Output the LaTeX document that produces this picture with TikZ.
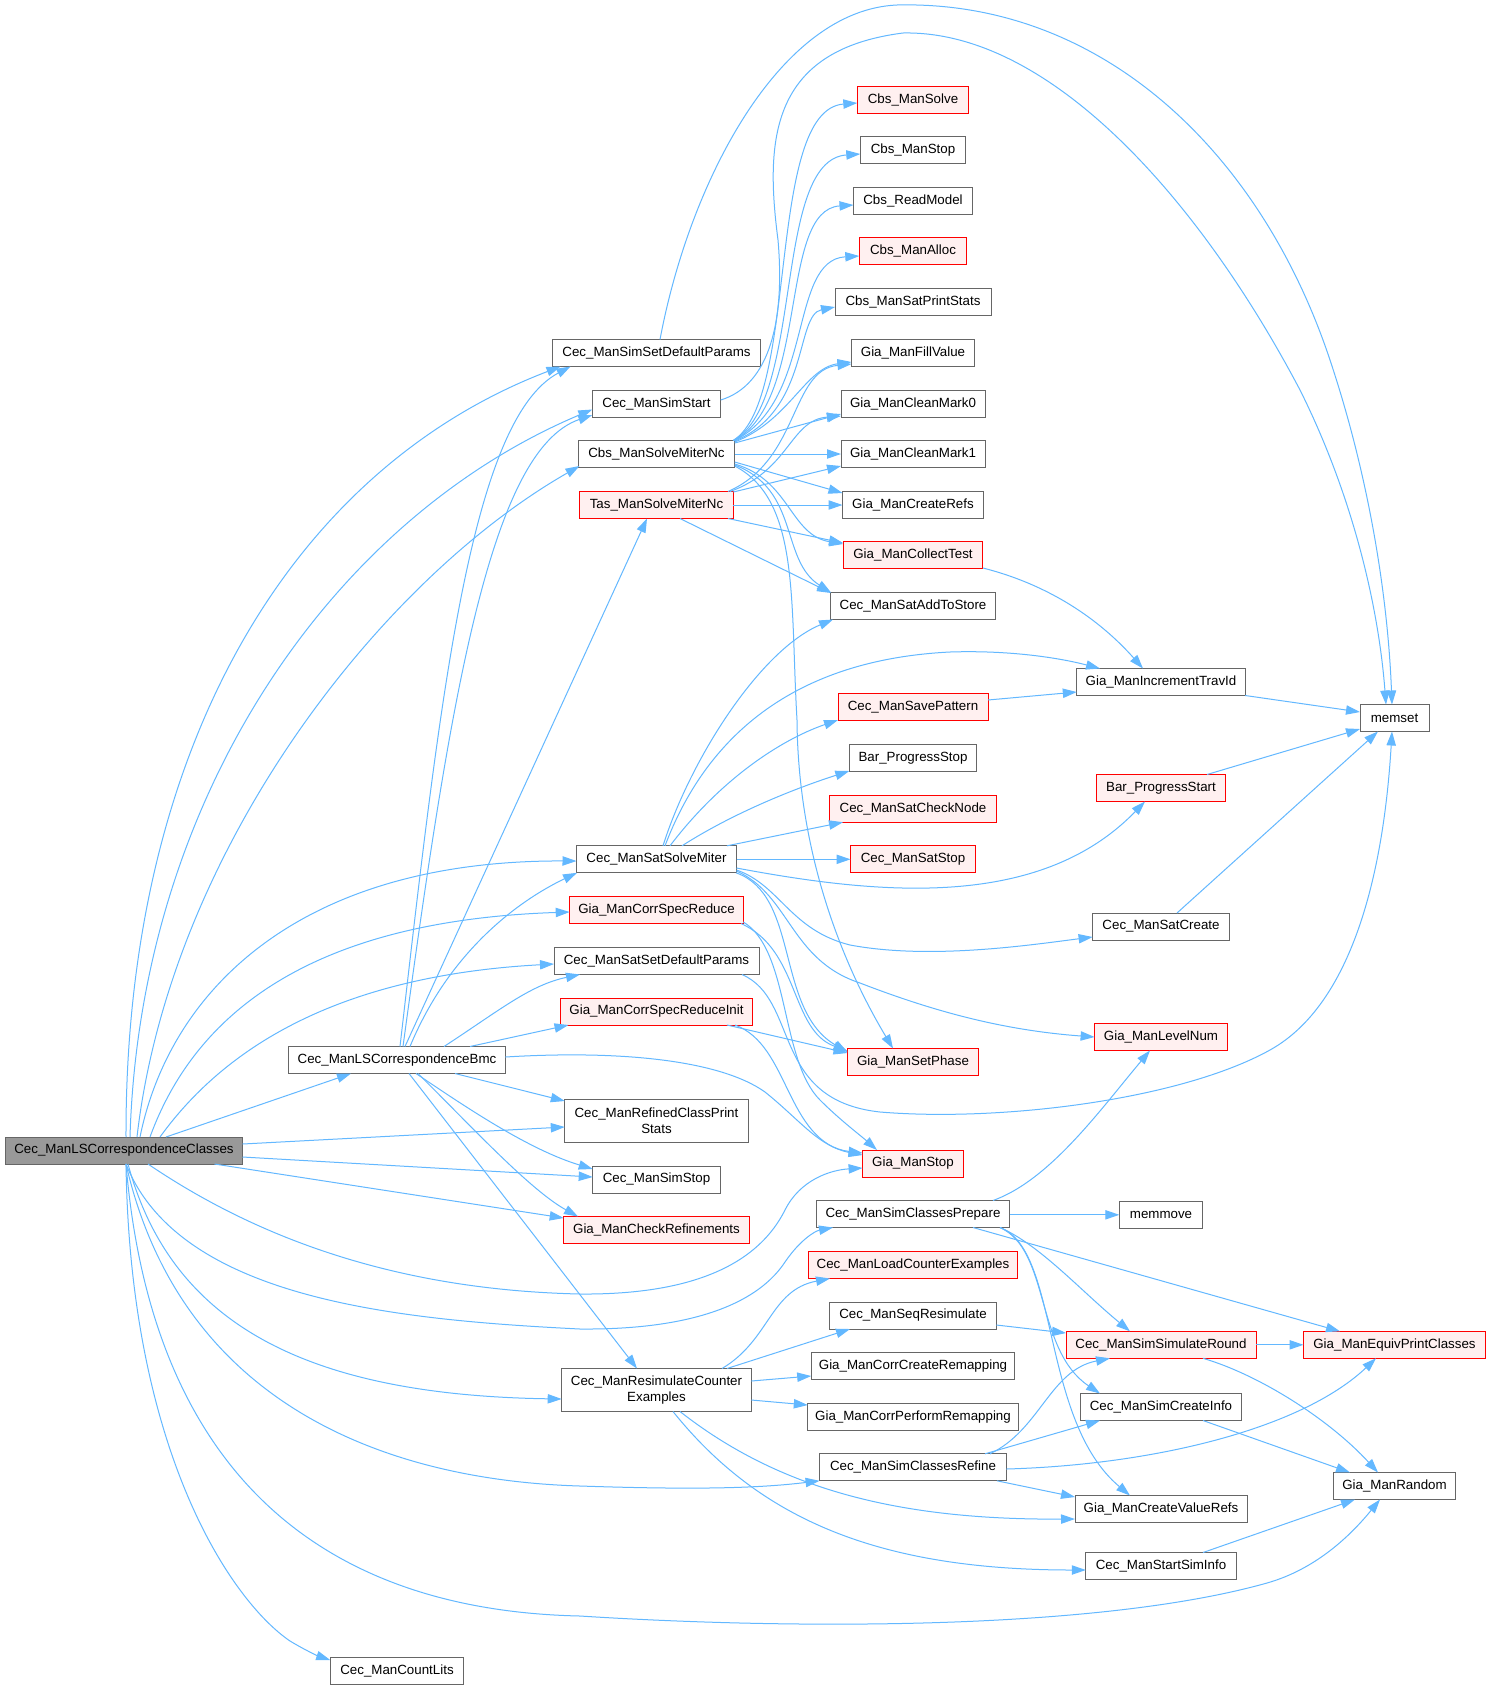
\documentclass[tikz,border=0pt]{standalone}
\usepackage{fontspec}
\setmainfont{Liberation Sans}
\usetikzlibrary{arrows.meta,calc}
\definecolor{edgeblue}{HTML}{63B8FF}
\definecolor{nodegray}{HTML}{666666}
\definecolor{rootfill}{HTML}{999999}
\definecolor{redfill}{HTML}{FFF0F0}
\begin{document}
\begin{tikzpicture}[x=0.75pt,y=-0.75pt,
  nd/.style={draw=nodegray, line width=0.75pt, fill=white, rectangle, inner sep=0pt,
    minimum height=27*0.75pt, font=\fontsize{10}{12}\selectfont, align=center},
  wd/.style={minimum width=#1*0.75pt},
  redn/.style={draw=red, fill=redfill},
  rootn/.style={fill=rootfill},
  tall/.style={minimum height=43*0.75pt},
  e/.style={draw=edgeblue, line width=0.75pt, -{Triangle[length=10.5pt,width=7pt]}}
]
\fill[white] (0,0) rectangle (1491,1689);
\useasboundingbox (0,0) rectangle (1491,1689);

% column 1-2
\node[nd,rootn,wd=237] (A) at (124,1150.5) {Cec\_ManLSCorrespondenceClasses};
\node[nd,wd=216.6] (B) at (397,1060) {Cec\_ManLSCorrespondenceBmc};
\node[nd,wd=133.6] (cnt) at (397,1670.5) {Cec\_ManCountLits};
% column 3
\node[nd,wd=207.6] (ssdp) at (656.5,353) {Cec\_ManSimSetDefaultParams};
\node[nd,wd=128.4] (sst) at (656.5,403.5) {Cec\_ManSimStart};
\node[nd,wd=156.4] (C) at (656.5,454) {Cbs\_ManSolveMiterNc};
\node[nd,redn,wd=153.6] (T) at (656.5,505) {Tas\_ManSolveMiterNc};
\node[nd,wd=160] (S) at (656.5,859.3) {Cec\_ManSatSolveMiter};
\node[nd,redn,wd=173.6] (csr) at (656.5,910) {Gia\_ManCorrSpecReduce};
\node[nd,wd=205] (satdp) at (656.5,961) {Cec\_ManSatSetDefaultParams};
\node[nd,redn,wd=191.6] (csri) at (656.5,1011.5) {Gia\_ManCorrSpecReduceInit};
\node[nd,tall,wd=183.3] (rcps) at (656.5,1120.7) {Cec\_ManRefinedClassPrint\\Stats};
\node[nd,wd=127.6] (sstop) at (656.5,1179.5) {Cec\_ManSimStop};
\node[nd,redn,wd=185.6] (chk) at (656.5,1230) {Gia\_ManCheckRefinements};
\node[nd,tall,wd=189.6] (R) at (656.5,1390) {Cec\_ManResimulateCounter\\Examples};
% column 4
\node[nd,redn,wd=111.3] (cbsS) at (913,99.5) {Cbs\_ManSolve};
\node[nd,wd=105.3] (cbsSt) at (913,150) {Cbs\_ManStop};
\node[nd,wd=119] (cbsR) at (913,201) {Cbs\_ReadModel};
\node[nd,redn,wd=107.3] (cbsA) at (913,251.3) {Cbs\_ManAlloc};
\node[nd,wd=156] (cbsP) at (913,302) {Cbs\_ManSatPrintStats};
\node[nd,wd=123] (fill) at (913,353) {Gia\_ManFillValue};
\node[nd,wd=144] (cm0) at (913,403.5) {Gia\_ManCleanMark0};
\node[nd,wd=144] (cm1) at (913,454) {Gia\_ManCleanMark1};
\node[nd,wd=141] (cref) at (913,505) {Gia\_ManCreateRefs};
\node[nd,redn,wd=139.7] (coll) at (913,555.3) {Gia\_ManCollectTest};
\node[nd,wd=165.7] (add) at (913,606) {Cec\_ManSatAddToStore};
\node[nd,redn,wd=150] (savp) at (913,707.3) {Cec\_ManSavePattern};
\node[nd,wd=127.3] (pstop) at (913,758) {Bar\_ProgressStop};
\node[nd,redn,wd=166.7] (chkn) at (913,808.7) {Cec\_ManSatCheckNode};
\node[nd,redn,wd=125] (satstop) at (913,859.3) {Cec\_ManSatStop};
\node[nd,redn,wd=131] (phase) at (913,1062) {Gia\_ManSetPhase};
\node[nd,redn,wd=100.7] (gstop) at (913,1163.5) {Gia\_ManStop};
\node[nd,wd=193.3] (P) at (913,1214) {Cec\_ManSimClassesPrepare};
\node[nd,redn,wd=209.6] (load) at (913,1265) {Cec\_ManLoadCounterExamples};
\node[nd,wd=166.7] (seq) at (913,1315.5) {Cec\_ManSeqResimulate};
\node[nd,wd=203.6] (ccr) at (913,1366) {Gia\_ManCorrCreateRemapping};
\node[nd,wd=210.4] (cpr) at (913,1417) {Gia\_ManCorrPerformRemapping};
\node[nd,wd=186.7] (F) at (913,1467.3) {Cec\_ManSimClassesRefine};
% column 5
\node[nd,wd=168.3] (trav) at (1161,682) {Gia\_ManIncrementTravId};
\node[nd,redn,wd=129] (pstart) at (1161,788) {Bar\_ProgressStart};
\node[nd,wd=136.7] (satc) at (1161,926.5) {Cec\_ManSatCreate};
\node[nd,redn,wd=132.7] (lev) at (1161,1037) {Gia\_ManLevelNum};
\node[nd,wd=83.4] (mmove) at (1161,1214.8) {memmove};
\node[nd,redn,wd=190] (ssr) at (1161,1344.8) {Cec\_ManSimSimulateRound};
\node[nd,wd=161.7] (sci) at (1161,1407) {Cec\_ManSimCreateInfo};
\node[nd,wd=172] (cvr) at (1161,1509) {Gia\_ManCreateValueRefs};
\node[nd,wd=150.3] (ssi) at (1161,1566) {Cec\_ManStartSimInfo};
% column 6
\node[nd,wd=69] (mset) at (1394.5,718) {memset};
\node[nd,redn,wd=182] (epc) at (1394.5,1344.8) {Gia\_ManEquivPrintClasses};
\node[nd,wd=122.4] (rnd) at (1394.5,1486) {Gia\_ManRandom};

% edges from A
\draw[e] ($(A)+(2,-13.5)$) .. controls (125,750) and (290,470) .. ($(ssdp)+(-96,13.5)$);
\draw[e] ($(A)+(6,-13.5)$) .. controls (140,800) and (330,520) .. ($(sst)+(-64.2,6)$);
\draw[e] ($(A)+(13,-13.5)$) .. controls (170,850) and (380,580) .. ($(C)+(-77,12)$);
\draw[e] ($(A)+(16,-13.5)$) .. controls (170,990) and (300,860) .. ($(S)+(-80,1.7)$);
\draw[e] ($(A)+(26,-13.5)$) .. controls (200,1000) and (330,920) .. ($(csr)+(-86.8,2)$);
\draw[e] ($(A)+(36,-13.5)$) .. controls (230,1040) and (350,975) .. ($(satdp)+(-102.5,3)$);
\draw[e] ($(A)+(42,-13.5)$) -- ($(B)+(-46,13.5)$);
\draw[e] ($(A)+(118.5,-6.5)$) -- ($(rcps)+(-91.7,6.3)$);
\draw[e] ($(A)+(118.5,6.5)$) -- ($(sstop)+(-63.8,-2.5)$);
\draw[e] ($(A)+(90.5,13.5)$) -- ($(chk)+(-92.8,-12)$);
\draw[e] ($(A)+(24,13.5)$) .. controls (260,1240) and (400,1290) .. (580,1294) .. controls (700,1295) and (760,1260) .. (785,1210) .. controls (800,1180) and (830,1170) .. ($(gstop)+(-50.4,4.5)$);
\draw[e] ($(A)+(2,13.5)$) .. controls (180,1300) and (400,1320) .. (580,1329) .. controls (700,1330) and (760,1300) .. (785,1262) .. controls (800,1240) and (815,1231) .. ($(P)+(-80,13.5)$);
\draw[e] ($(A)+(4,13.5)$) .. controls (170,1320) and (300,1395) .. ($(R)+(-94.8,9)$);
\draw[e] ($(A)+(2,13.5)$) .. controls (180,1400) and (380,1480) .. (580,1486) .. controls (700,1490) and (760,1488) .. ($(F)+(-93.4,13.5)$);
\draw[e] ($(A)+(2,13.5)$) .. controls (150,1450) and (300,1610) .. (580,1616) .. controls (800,1630) and (1100,1630) .. (1267,1583) .. controls (1320,1568) and (1355,1530) .. ($(rnd)+(-14.5,13.5)$);
\draw[e] ($(A)+(2,13.5)$) .. controls (130,1450) and (230,1600) .. (290,1641) .. controls (305,1650) and (318,1656) .. ($(cnt)+(-66.8,-10.5)$);

% edges from B
\draw[e] ($(B)+(3,-13.5)$) .. controls (440,700) and (470,420) .. ($(ssdp)+(-86,13.5)$);
\draw[e] ($(B)+(6,-13.5)$) .. controls (450,700) and (490,450) .. ($(sst)+(-64.2,11.5)$);
\draw[e] ($(B)+(8,-13.5)$) -- ($(T)+(-9.5,13.5)$);
\draw[e] ($(B)+(13,-13.5)$) .. controls (450,950) and (520,900) .. ($(S)+(-79.5,13.5)$);
\draw[e] ($(B)+(47,-13.5)$) .. controls (500,1010) and (530,985) .. ($(satdp)+(-76.5,13.5)$);
\draw[e] ($(B)+(73,-13.5)$) -- ($(csri)+(-88,13.5)$);
\draw[e] ($(B)+(108.3,-3)$) .. controls (620,1050) and (720,1060) .. (765,1092) .. controls (800,1120) and (820,1148) .. ($(gstop)+(-50.4,-10.5)$);
\draw[e] ($(B)+(58,13.5)$) -- ($(rcps)+(-91.7,-19.7)$);
\draw[e] ($(B)+(19,13.5)$) .. controls (470,1110) and (530,1150) .. ($(sstop)+(-63.8,-10.5)$);
\draw[e] ($(B)+(21,13.5)$) .. controls (470,1125) and (530,1190) .. ($(chk)+(-78.5,-13.5)$);
\draw[e] ($(B)+(12,13.5)$) -- ($(R)+(-19.5,-21.5)$);

% edges from Cbs_ManSolveMiterNc
\draw[e] ($(C)+(76.5,-13.5)$) .. controls (800,400) and (765,110) .. ($(cbsS)+(-55.7,3.5)$);
\draw[e] ($(C)+(77,-13.5)$) .. controls (805,400) and (772,160) .. ($(cbsSt)+(-52.7,4)$);
\draw[e] ($(C)+(77.5,-13.5)$) .. controls (810,400) and (778,210) .. ($(cbsR)+(-59.5,4)$);
\draw[e] ($(C)+(78,-13.5)$) .. controls (815,400) and (788,260) .. ($(cbsA)+(-53.7,4.7)$);
\draw[e] ($(C)+(78.2,-13)$) .. controls (810,410) and (795,315) .. ($(cbsP)+(-78,5)$);
\draw[e] ($(C)+(78.2,-12)$) .. controls (790,420) and (805,368) .. ($(fill)+(-61.5,9)$);
\draw[e] ($(C)+(78.2,-11)$) -- ($(cm0)+(-72,10.5)$);
\draw[e] ($(C)+(78.2,0)$) -- ($(cm1)+(-72,0)$);
\draw[e] ($(C)+(78.2,8)$) -- ($(cref)+(-70.5,-12)$);
\draw[e] ($(C)+(78.2,10)$) .. controls (790,480) and (790,535) .. ($(coll)+(-69.9,-11.3)$);
\draw[e] ($(C)+(78.2,11)$) .. controls (800,490) and (780,560) .. ($(add)+(-82,-13.5)$);
\draw[e] ($(C)+(78.2,12)$) .. controls (800,500) and (790,600) .. (797,720) .. controls (798,850) and (840,960) .. ($(phase)+(-20,-13.5)$);

% edges from Tas_ManSolveMiterNc
\draw[e] ($(T)+(71.5,-13.5)$) .. controls (800,460) and (790,370) .. ($(fill)+(-61.5,11)$);
\draw[e] ($(T)+(73.5,-13.5)$) .. controls (790,470) and (790,420) .. ($(cm0)+(-72,12.5)$);
\draw[e] ($(T)+(76.8,-13)$) -- ($(cm1)+(-72,12)$);
\draw[e] ($(T)+(76.8,0)$) -- ($(cref)+(-70.5,0)$);
\draw[e] ($(T)+(71.5,13.5)$) -- ($(coll)+(-69.9,-12.3)$);
\draw[e] ($(T)+(23.5,13.5)$) -- ($(add)+(-82,-13)$);

% edges from Cec_ManSatSolveMiter
\draw[e] ($(S)+(6.5,-13.5)$) .. controls (690,760) and (760,650) .. ($(add)+(-80,13.5)$);
\draw[e] ($(S)+(8.5,-13.5)$) .. controls (705,740) and (790,660) .. (950,652) .. controls (1010,650) and (1060,658) .. ($(trav)+(-61,-13.5)$);
\draw[e] ($(S)+(13.5,-13.5)$) .. controls (720,780) and (780,740) .. ($(savp)+(-75,12.7)$);
\draw[e] ($(S)+(25.5,-13.5)$) .. controls (730,815) and (790,790) .. ($(pstop)+(-63.7,13)$);
\draw[e] ($(S)+(70.5,-13.5)$) -- ($(chkn)+(-70,13.5)$);
\draw[e] ($(S)+(80,0)$) -- ($(satstop)+(-62.5,0)$);
\draw[e] ($(S)+(80,8.7)$) .. controls (880,895) and (1040,910) .. ($(pstart)+(-16,13.5)$);
\draw[e] ($(S)+(80,10.7)$) .. controls (780,885) and (790,930) .. (850,945) .. controls (930,960) and (1030,945) .. ($(satc)+(-68.4,10.5)$);
\draw[e] ($(S)+(80,11.7)$) .. controls (790,895) and (790,960) .. (860,983) .. controls (930,1010) and (1000,1030) .. ($(lev)+(-66.4,0)$);
\draw[e] ($(S)+(79.5,13.5)$) .. controls (800,895) and (775,1010) .. ($(phase)+(-65.5,-10)$);

% Gia_ManCorrSpecReduce / Init, Cec_ManSatSetDefaultParams
\draw[e] ($(csr)+(84.5,13.5)$) .. controls (800,950) and (790,1030) .. ($(phase)+(-65.5,-11)$);
\draw[e] ($(csr)+(86.8,12)$) .. controls (790,950) and (780,1060) .. (820,1100) .. controls (840,1120) and (860,1135) .. ($(gstop)+(-36,-13.5)$);
\draw[e] ($(satdp)+(85.5,13.5)$) .. controls (800,1000) and (770,1100) .. (880,1112) .. controls (1000,1122) and (1180,1100) .. (1270,1050) .. controls (1360,1000) and (1385,850) .. ($(mset)+(-2.5,13.5)$);
\draw[e] ($(csri)+(70.5,13.5)$) -- ($(phase)+(-65.5,-9)$);
\draw[e] ($(csri)+(78.5,13.5)$) .. controls (790,1045) and (785,1140) .. ($(gstop)+(-50.4,-8.5)$);

% Cec_ManSimClassesPrepare
\draw[e] ($(P)+(80,-13.5)$) .. controls (1050,1180) and (1100,1110) .. ($(lev)+(-11,13.5)$);
\draw[e] ($(P)+(96.7,0.8)$) -- ($(mmove)+(-41.7,0)$);
\draw[e] ($(P)+(60,13.5)$) -- ($(epc)+(-54.5,-13.5)$);
\draw[e] ($(P)+(87,13.5)$) .. controls (1040,1245) and (1080,1290) .. ($(ssr)+(-31,-13.5)$);
\draw[e] ($(P)+(87,13.5)$) .. controls (1050,1250) and (1035,1350) .. ($(sci)+(-61,-13.5)$);
\draw[e] ($(P)+(87,13.5)$) .. controls (1060,1250) and (1040,1420) .. ($(cvr)+(-31,-13.5)$);

% Cec_ManResimulateCounterExamples
\draw[e] ($(R)+(65.5,-21.5)$) .. controls (770,1340) and (770,1290) .. ($(load)+(-83,13.5)$);
\draw[e] ($(R)+(70.5,-21.5)$) -- ($(seq)+(-63,13.5)$);
\draw[e] ($(R)+(94.8,-9)$) -- ($(ccr)+(-101.8,10)$);
\draw[e] ($(R)+(94.8,10)$) -- ($(cpr)+(-105.2,-12)$);
\draw[e] ($(R)+(23.5,21.5)$) .. controls (780,1490) and (900,1520) .. ($(cvr)+(-86,10)$);
\draw[e] ($(R)+(16.5,21.5)$) .. controls (760,1520) and (880,1570) .. ($(ssi)+(-75.2,4)$);

% Cec_ManSimClassesRefine
\draw[e] ($(F)+(77,-13.5)$) .. controls (1040,1430) and (1050,1370) .. ($(ssr)+(-51,13.5)$);
\draw[e] ($(F)+(72,-13.5)$) -- ($(sci)+(-61,13.5)$);
\draw[e] ($(F)+(93.4,1.7)$) .. controls (1150,1465) and (1300,1430) .. ($(epc)+(-18.5,13.5)$);
\draw[e] ($(F)+(84,13.5)$) -- ($(cvr)+(-86,-12)$);

% others
\draw[e] ($(seq)+(83.4,9.5)$) -- ($(ssr)+(-95,-11.8)$);
\draw[e] ($(ssr)+(95,0)$) -- ($(epc)+(-91,0)$);
\draw[e] ($(ssr)+(42,13.5)$) .. controls (1260,1375) and (1330,1420) .. ($(rnd)+(-16.5,-13.5)$);
\draw[e] ($(sci)+(42,13.5)$) -- ($(rnd)+(-44.5,-13.5)$);
\draw[e] ($(ssi)+(42,-13.5)$) -- ($(rnd)+(-39.5,13.5)$);
\draw[e] ($(savp)+(75,-7.3)$) -- ($(trav)+(-84.2,10)$);
\draw[e] ($(coll)+(69.9,12.7)$) .. controls (1050,585) and (1100,620) .. ($(trav)+(-18,-13.5)$);
\draw[e] ($(trav)+(84.2,13.5)$) -- ($(mset)+(-34.5,-6)$);
\draw[e] ($(pstart)+(46,-13.5)$) -- ($(mset)+(-34.5,11)$);
\draw[e] ($(satc)+(16,-13.5)$) -- ($(mset)+(-16.5,13.5)$);
\draw[e] ($(ssdp)+(3.5,-13.5)$) .. controls (690,180) and (780,10) .. (897,5) .. controls (1100,0) and (1260,150) .. (1330,360) .. controls (1370,480) and (1388,600) .. ($(mset)+(-2.5,-13.5)$);
\draw[e] ($(sst)+(64.2,-3.5)$) .. controls (770,385) and (785,320) .. (778,240) .. controls (765,140) and (770,50) .. (903,33) .. controls (1050,30) and (1200,200) .. (1300,390) .. controls (1350,490) and (1378,600) .. ($(mset)+(-8.5,-13.5)$);
\end{tikzpicture}
\end{document}
